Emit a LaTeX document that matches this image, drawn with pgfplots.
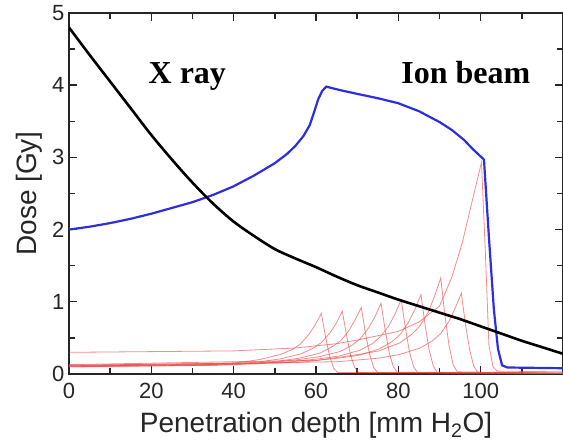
\documentclass[border=0pt]{standalone}
\usepackage{fontspec}
\setmainfont{Liberation Sans}
\newfontfamily\serifbold{Liberation Serif}
\usepackage{pgfplots}
\pgfplotsset{compat=1.18}
\definecolor{redline}{RGB}{235,70,70}
\definecolor{blueline}{RGB}{45,45,225}
\begin{document}
\begin{tikzpicture}
\begin{axis}[
  scale only axis,
  width=494pt, height=361pt,
  at={(0,0)}, anchor=south west,
  xmin=0, xmax=120, ymin=0, ymax=5,
  xtick={0,20,40,60,80,100},
  minor xtick={10,30,50,70,90,110},
  ytick={0,1,2,3,4,5},
  minor ytick={0.5,1.5,2.5,3.5,4.5},
  tick align=inside,
  major tick length=8pt, minor tick length=6pt,
  axis line style={line width=1.6pt, black!85},
  every tick/.style={line width=1.4pt, black!85},
  /pgf/number format/assume math mode=true,
  tick label style={font=\fontsize{22}{22}\selectfont, text=black!85},
  xticklabel style={yshift=-6pt},
  yticklabel style={xshift=-1pt},
  xlabel={Penetration depth [mm H\textsubscript{2}O]},
  ylabel={Dose [Gy]},
  label style={font=\fontsize{28}{28}\selectfont, text=black!85},
  xlabel style={yshift=-6pt},
  ylabel style={yshift=3pt},
  clip=true,
]
% Bragg curves (single energies)
\addplot[redline, line width=0.8pt, opacity=0.62] coordinates {
 (0,0.10) (31.3,0.12) (41.3,0.16) (46.3,0.20) (51.3,0.27) (54.3,0.34) (56.3,0.42) (58.3,0.55) (59.8,0.68) (61.3,0.84) (62.3,0.52) (63.3,0.25) (64.3,0.08) (65.3,0.02) (120,0.01)};
\addplot[redline, line width=0.8pt, opacity=0.62] coordinates {
 (0,0.10) (36.4,0.12) (46.4,0.17) (51.4,0.21) (56.4,0.28) (59.4,0.36) (61.4,0.44) (63.4,0.57) (64.9,0.70) (66.4,0.87) (67.4,0.54) (68.4,0.26) (69.4,0.09) (70.4,0.02) (120,0.01)};
\addplot[redline, line width=0.8pt, opacity=0.62] coordinates {
 (0,0.11) (41,0.13) (51,0.18) (56,0.22) (61,0.29) (64,0.38) (66,0.46) (68,0.60) (69.5,0.75) (71,0.92) (72,0.57) (73,0.28) (74,0.09) (75,0.02) (120,0.01)};
\addplot[redline, line width=0.8pt, opacity=0.62] coordinates {
 (0,0.11) (45.8,0.14) (55.8,0.20) (60.8,0.24) (65.8,0.31) (68.8,0.40) (70.8,0.49) (72.8,0.64) (74.3,0.79) (75.8,0.98) (76.8,0.61) (77.8,0.29) (78.8,0.10) (79.8,0.02) (120,0.01)};
\addplot[redline, line width=0.8pt, opacity=0.62] coordinates {
 (0,0.11) (50.7,0.15) (60.7,0.21) (65.7,0.25) (70.7,0.33) (73.7,0.42) (75.7,0.52) (77.7,0.67) (79.2,0.83) (80.7,1.03) (81.7,0.64) (82.7,0.31) (83.7,0.10) (84.7,0.02) (120,0.01)};
\addplot[redline, line width=0.8pt, opacity=0.62] coordinates {
 (0,0.12) (55.5,0.16) (65.5,0.22) (70.5,0.26) (75.5,0.35) (78.5,0.45) (80.5,0.55) (82.5,0.72) (84,0.89) (85.5,1.10) (86.5,0.68) (87.5,0.33) (88.5,0.11) (89.5,0.02) (120,0.01)};
\addplot[redline, line width=0.8pt, opacity=0.62] coordinates {
 (0,0.13) (60.3,0.19) (70.3,0.27) (75.3,0.32) (80.3,0.43) (83.3,0.55) (85.3,0.67) (87.3,0.86) (88.8,1.08) (90.3,1.33) (91.3,0.82) (92.3,0.40) (93.3,0.13) (94.3,0.03) (120,0.01)};
\addplot[redline, line width=0.8pt, opacity=0.62] coordinates {
 (0,0.12) (65.3,0.17) (75.3,0.22) (80.3,0.27) (85.3,0.36) (88.3,0.46) (90.3,0.56) (92.3,0.73) (93.8,0.91) (95.3,1.12) (96.3,0.69) (97.3,0.34) (98.3,0.11) (99.3,0.02) (120,0.01)};
\addplot[redline, line width=0.8pt, opacity=0.62] coordinates {
 (0,0.30) (40,0.32) (55,0.36) (65,0.42) (70,0.47) (80,0.59) (85,0.72) (90,0.94) (93,1.34) (95.5,1.81) (98,2.41) (100.2,2.93) (101.2,1.6) (102,0.4) (103,0.1) (104,0.04) (120,0.03)};
% spread-out Bragg peak
\addplot[blueline, line width=2.2pt] coordinates {
 (0,2.00) (5,2.04) (10,2.09) (15,2.15) (20,2.22) (25,2.30) (30,2.38) (35,2.48) (40,2.60) (45,2.75) (50,2.92) (53,3.05) (55,3.16) (57,3.30) (58.5,3.45) (59.5,3.62) (60.5,3.80) (61.5,3.92) (62.5,3.98) (66,3.93) (70,3.88) (75,3.82) (80,3.75) (85,3.64) (90,3.49) (93,3.38) (96,3.24) (98,3.12) (100.8,2.97) (102,1.9) (103.2,0.9) (104.2,0.35) (105.2,0.12) (106.5,0.09) (120,0.08)};
% X ray
\addplot[black, line width=2.6pt, smooth] coordinates {
 (0,4.80) (5,4.42) (10,4.05) (15,3.68) (20,3.31) (25,2.97) (30,2.65) (35,2.36) (40,2.11) (45,1.91) (50,1.73) (55,1.60) (60,1.48) (65,1.35) (70,1.23) (75,1.13) (80,1.03) (85,0.94) (90,0.85) (95,0.76) (100,0.66) (105,0.56) (110,0.46) (115,0.37) (120,0.28)};
\node[anchor=base west, font=\serifbold\bfseries\fontsize{32}{32}\selectfont] at (axis cs:18.5,4.03) {X ray};
\node[anchor=base west, font=\serifbold\bfseries\fontsize{32}{32}\selectfont] at (axis cs:79.9,4.03) {Ion beam};
\end{axis}
\pgfresetboundingbox
\path[use as bounding box] (-69pt,-68pt) rectangle (494pt,374pt);
\end{tikzpicture}
\end{document}
